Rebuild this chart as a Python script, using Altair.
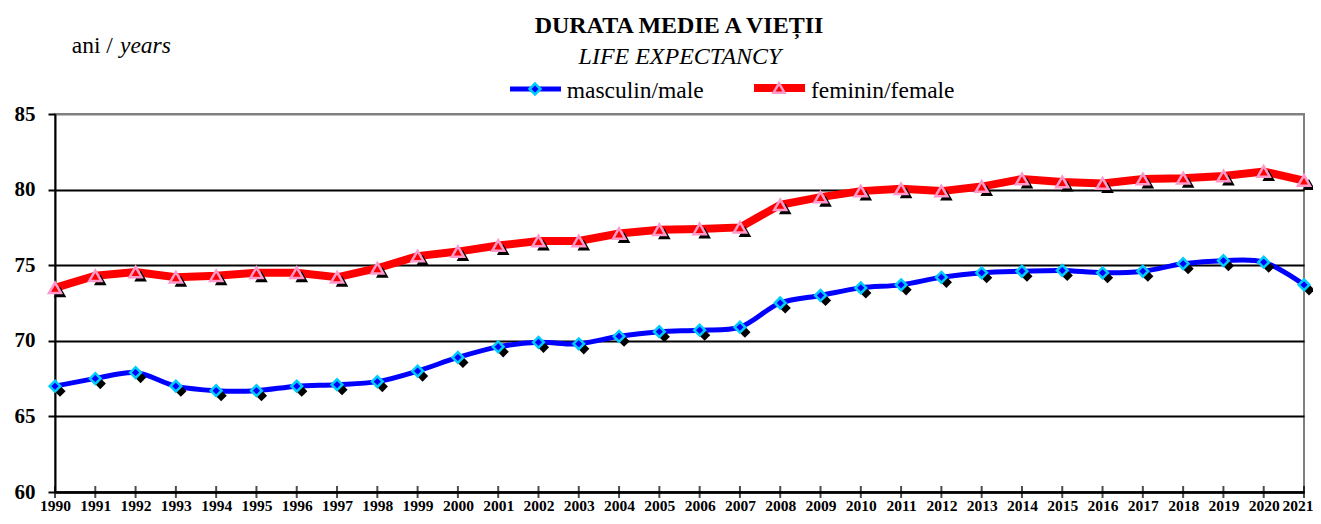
import altair as alt
import pandas as pd

# ---- data ----
years = list(range(1990, 2022))
male = [67.0, 67.5, 67.9, 67.0, 66.7, 66.7, 67.0, 67.1, 67.3, 68.0,
        68.9, 69.6, 69.9, 69.8, 70.3, 70.6, 70.7, 70.9, 72.5, 73.0,
        73.5, 73.7, 74.2, 74.5, 74.6, 74.65, 74.5, 74.6, 75.1, 75.3,
        75.2, 73.7]
female = [73.5, 74.3, 74.55, 74.2, 74.3, 74.5, 74.5, 74.2, 74.8, 75.6,
          75.9, 76.3, 76.6, 76.6, 77.1, 77.35, 77.4, 77.5, 79.0, 79.5,
          79.9, 80.05, 79.9, 80.2, 80.7, 80.5, 80.4, 80.7, 80.75, 80.9,
          81.2, 80.6]
y_ticks = [60, 65, 70, 75, 80, 85]
series_labels = ["masculin/male", "feminin/female"]
title_text = "DURATA MEDIE A VIEȚII"
subtitle_text = "LIFE EXPECTANCY"
unit_ro = "ani / "
unit_en = "years"

df = pd.DataFrame({"year": years, "male": male, "female": female})
one = pd.DataFrame({"k": [0]})

FONT = "Liberation Serif"
W, H = 1249, 378

x_enc = alt.X(
    "year:Q",
    scale=alt.Scale(domain=[1990, 2021], nice=False, zero=False),
    axis=alt.Axis(
        values=years, format="d", title=None, grid=False, ticks=False,
        labelPadding=6, labelFont=FONT, labelFontSize=15.5, labelFontWeight="bold",
        labelColor="black", labelOverlap=False, labelFlush=False,
        labelAlign={"condition": {"test": "datum.value == 2021", "value": "right"}, "value": "center"},
        labelOffset={"condition": {"test": "datum.value == 2021", "value": 9}, "value": 0},
        domainColor="black", domainWidth=2.5,
    ),
)

y_axis = alt.Axis(
    values=y_ticks, title=None, grid=True,
    gridColor={"condition": {"test": "datum.value >= 85", "value": "#808080"}, "value": "black"},
    gridWidth=2, tickSize=7, tickWidth=2, tickColor="black",
    labelPadding=13, labelFont=FONT, labelFontSize=21, labelFontWeight="bold",
    labelColor="black", domainColor="black", domainWidth=2,
)
y_scale = alt.Scale(domain=[60, 85], nice=False, zero=False)


def yenc(field):
    return alt.Y(f"{field}:Q", scale=y_scale, axis=y_axis)


base = alt.Chart(df)

ticks = base.mark_tick(orient="vertical", size=12, thickness=2, color="black").encode(
    x=x_enc, y=alt.datum(60)
)

male_line = base.mark_line(color="#0000ff", strokeWidth=5, interpolate="catmull-rom").encode(
    x=x_enc, y=yenc("male")
)
male_shadow = base.mark_point(shape="diamond", filled=True, color="black", size=125,
                              opacity=1, xOffset=5, yOffset=5).encode(x=x_enc, y=yenc("male"))
male_pts = base.mark_point(shape="diamond", filled=True, fill="#0000ff", stroke="#00ccff",
                           strokeWidth=2.5, size=115, opacity=1).encode(x=x_enc, y=yenc("male"))

fem_line = base.mark_line(color="#ff0000", strokeWidth=8).encode(x=x_enc, y=yenc("female"))
fem_shadow = base.mark_point(shape="triangle-up", filled=True, color="black", size=160,
                             opacity=1, xOffset=5, yOffset=4).encode(x=x_enc, y=yenc("female"))
fem_pts = base.mark_point(shape="triangle-up", filled=True, fill="#ff0000", stroke="#ff99cc",
                          strokeWidth=2.5, size=145, opacity=1).encode(x=x_enc, y=yenc("female"))

ann = alt.Chart(one)


def text(t, x, y, size=23.5, weight="normal", style="normal", align="left"):
    return ann.mark_text(text=t, font=FONT, fontSize=size, fontWeight=weight, fontStyle=style,
                         align=align, baseline="alphabetic", color="black").encode(
        x=alt.value(x), y=alt.value(y))


title = text(title_text, 624, -81, size=24, weight="bold", align="center")
subtitle = text(subtitle_text, 625, -50, size=24, style="italic", align="center")
unit1 = text(unit_ro, 16.7, -61)
unit2 = text(unit_en, 65, -61, style="italic")

leg_m_line = ann.mark_rule(color="#0000ff", strokeWidth=5).encode(
    x=alt.value(455), x2=alt.value(506), y=alt.value(-25))
leg_m_pt = ann.mark_point(shape="diamond", filled=True, fill="#0000ff", stroke="#00ccff",
                          strokeWidth=2.5, size=120, opacity=1).encode(x=alt.value(480), y=alt.value(-25))
leg_m_txt = text(series_labels[0], 511.7, -16)

leg_f_line = ann.mark_rule(color="#ff0000", strokeWidth=8).encode(
    x=alt.value(699), x2=alt.value(750), y=alt.value(-26))
leg_f_pt = ann.mark_point(shape="triangle-up", filled=True, fill="#ff0000", stroke="#ff99cc",
                          strokeWidth=2.5, size=120, opacity=1).encode(x=alt.value(724), y=alt.value(-26))
leg_f_txt = text(series_labels[1], 756, -16)

chart = alt.layer(
    ticks, male_line, male_shadow, male_pts, fem_line, fem_shadow, fem_pts,
    title, subtitle, unit1, unit2,
    leg_m_line, leg_m_pt, leg_m_txt, leg_f_line, leg_f_pt, leg_f_txt,
).properties(
    width=W, height=H,
    autosize=alt.AutoSizeParams(type="none"),
    padding={"left": 47, "top": 106, "right": 9, "bottom": 24},
    background="white",
).configure(font=FONT).configure_view(stroke="#808080", strokeWidth=2)

chart.save("out.html", embed_options={"renderer": "svg", "actions": False})
